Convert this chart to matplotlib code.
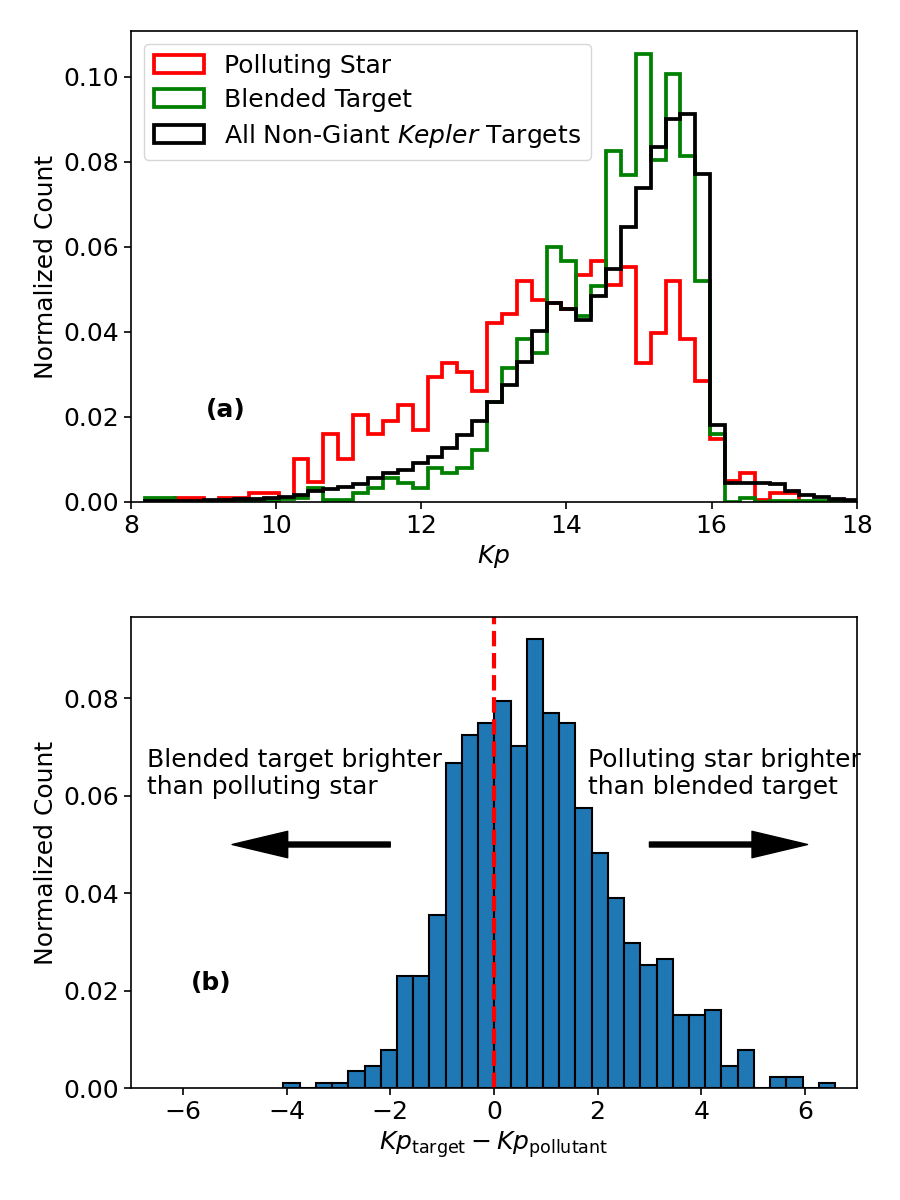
import numpy as np
import matplotlib
matplotlib.use("Agg")
import matplotlib.pyplot as plt

# bin edges shared by the three Kp histograms (48 bins)
kp_start = 8.19
kp_width = 0.205
kp_edges = kp_start + kp_width * np.arange(49)

# normalized counts per bin
polluting = [0, 0, 0.001, 0.001, 0, 0.001, 0.001, 0.0021, 0.0021, 0.001,
             0.0102, 0.0046, 0.016, 0.0101, 0.0204, 0.016, 0.0191, 0.0227, 0.0169, 0.0295,
             0.0327, 0.0305, 0.026, 0.0421, 0.0442, 0.0521, 0.0476, 0.0467, 0.0453, 0.0534,
             0.0566, 0.0511, 0.0554, 0.0327, 0.0398, 0.0521, 0.0384, 0.0284, 0.0147, 0.005,
             0.0067, 0.0005, 0.0022, 0.0022, 0, 0, 0, 0]
blended = [0.001, 0.001, 0, 0, 0, 0, 0.0002, 0.0002, 0.0003, 0.0007,
           0.001, 0.0033, 0.0004, 0.0004, 0.0021, 0.0033, 0.0056, 0.0045, 0.0033, 0.0079,
           0.0068, 0.008, 0.0123, 0.0236, 0.0315, 0.0383, 0.0351, 0.0599, 0.0566, 0.0437,
           0.0508, 0.0825, 0.077, 0.1055, 0.0805, 0.1008, 0.0815, 0.0519, 0.016, 0,
           0.001, 0, 0.0002, 0.0002, 0.0002, 0.0002, 0, 0]
all_targets = [0.0002, 0.0002, 0.0003, 0.0003, 0.0004, 0.0005, 0.0006, 0.0007, 0.0009, 0.0012,
               0.0017, 0.0025, 0.0031, 0.0035, 0.0042, 0.0056, 0.0067, 0.0076, 0.0092, 0.0106,
               0.0127, 0.0158, 0.019, 0.0236, 0.0275, 0.033, 0.0402, 0.0469, 0.0455, 0.0429,
               0.0484, 0.0548, 0.0647, 0.0739, 0.0836, 0.09, 0.0913, 0.0772, 0.0182, 0.0045,
               0.0044, 0.0044, 0.0042, 0.0025, 0.0017, 0.0012, 0.0008, 0.0005]

# Kp_target - Kp_pollutant histogram (34 bins)
diff_edges = np.linspace(-4.06, 6.58, 35)
diff_counts = [0.001, 0, 0.001, 0.001, 0.0034, 0.0046, 0.0079, 0.023, 0.023, 0.0356,
               0.0668, 0.0725, 0.0749, 0.0795, 0.0702, 0.0921, 0.0771, 0.0749, 0.0575, 0.0483,
               0.0391, 0.0298, 0.0252, 0.0264, 0.0149, 0.0149, 0.016, 0.0046, 0.0079, 0,
               0.0022, 0.0022, 0, 0.001]

plt.rcParams['font.size'] = 18
plt.rcParams['axes.linewidth'] = 1.2
for a in ('xtick', 'ytick'):
    plt.rcParams[a + '.major.size'] = 5
    plt.rcParams[a + '.major.width'] = 1.2

fig = plt.figure(figsize=(9, 12), dpi=100)
ax1 = fig.add_axes([0.1456, 0.5817, 0.8064, 0.3923])
ax2 = fig.add_axes([0.1456, 0.0933, 0.8064, 0.3925])

# panel (a)
centers = kp_edges[:-1] + kp_width / 2
ax1.hist(centers, bins=kp_edges, weights=polluting, histtype='step',
         color='red', lw=2.7, label='Polluting Star')
ax1.hist(centers, bins=kp_edges, weights=blended, histtype='step',
         color='green', lw=2.7, label='Blended Target')
ax1.hist(centers, bins=kp_edges, weights=all_targets, histtype='step',
         color='black', lw=2.7, label=r'All Non-Giant $\it{Kepler}$ Targets')
ax1.set_xlim(8, 18)
ax1.set_ylim(bottom=0)
ax1.set_xlabel(r'$Kp$')
ax1.set_ylabel('Normalized Count')
ax1.legend(loc='upper left', labelspacing=0.4)
ax1.text(9.3, 0.0217, '(a)', fontweight='bold', ha='center', va='center')

# panel (b)
diff_centers = (diff_edges[:-1] + diff_edges[1:]) / 2
ax2.hist(diff_centers, bins=diff_edges, weights=diff_counts,
         color='#1f77b4', edgecolor='black', lw=1.5)
ax2.axvline(0, color='red', ls='--', lw=3)
ax2.set_xlim(-7, 7)
ax2.set_xlabel(r'$Kp_{\rm target} - Kp_{\rm pollutant}$')
ax2.set_ylabel('Normalized Count')
ax2.text(-5.45, 0.0215, '(b)', fontweight='bold', ha='center', va='center')
ax2.text(-6.7, 0.0646, 'Blended target brighter\nthan polluting star',
         ha='left', va='center')
ax2.text(1.82, 0.0646, 'Polluting star brighter\nthan blended target',
         ha='left', va='center')
arrow = dict(facecolor='black', width=3.6, headwidth=19, headlength=40, shrink=0)
ax2.annotate('', xy=(-5.05, 0.05), xytext=(-2.0, 0.05), arrowprops=arrow)
ax2.annotate('', xy=(6.05, 0.05), xytext=(3.0, 0.05), arrowprops=arrow)

fig.savefig('out.png', dpi=100)
